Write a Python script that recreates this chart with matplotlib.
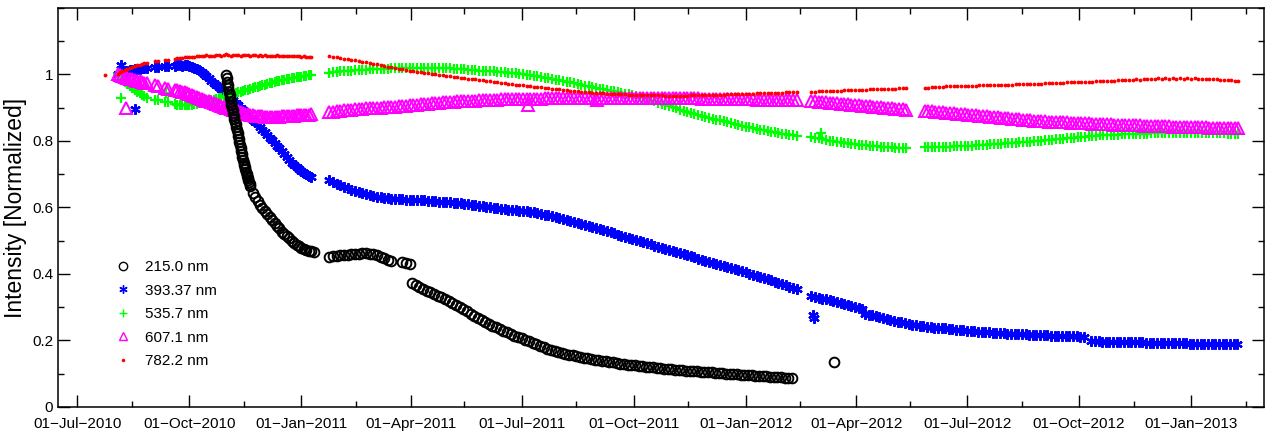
import numpy as np
import matplotlib
matplotlib.use("Agg")
import matplotlib.pyplot as plt
import matplotlib.dates as mdates
from matplotlib.ticker import MultipleLocator, FuncFormatter

plt.rcParams['font.family'] = ['Liberation Sans', 'DejaVu Sans']

# normalized intensity, one list per wavelength
# each entry: (first date, spacing in days, values)
nm215 = [
    ("2010-10-31", 0.5, [0.998, 0.988, 0.978, 0.968, 0.958, 0.948, 0.938, 0.928, 0.918, 0.909,
                         0.900, 0.892, 0.884, 0.875, 0.867, 0.858, 0.850, 0.841, 0.832, 0.823,
                         0.815, 0.806, 0.797, 0.788, 0.780, 0.770, 0.760, 0.751, 0.742, 0.735,
                         0.728, 0.721, 0.715, 0.708, 0.702, 0.696, 0.690, 0.684, 0.678, 0.671]),
    ("2010-11-20", 2, [0.665, 0.645, 0.632, 0.620, 0.608, 0.598, 0.588, 0.579, 0.570, 0.561,
                       0.553, 0.545, 0.537, 0.527, 0.520, 0.513, 0.507, 0.500, 0.494, 0.488,
                       0.483, 0.479, 0.476, 0.473, 0.470, 0.468, 0.466]),
    ("2011-01-24", 3, [0.452, 0.453, 0.455, 0.456, 0.457, 0.458, 0.459, 0.460, 0.461, 0.462,
                       0.462, 0.461, 0.459, 0.456, 0.452, 0.447, 0.442, 0.440]),
    ("2011-03-25", 3, [0.435, 0.432, 0.430]),
    ("2011-04-02", 3, [0.372, 0.366, 0.360, 0.355, 0.350, 0.345, 0.340, 0.335, 0.330, 0.324,
                       0.318, 0.313, 0.307, 0.301, 0.295, 0.288, 0.281, 0.274, 0.268, 0.262,
                       0.256, 0.250, 0.245, 0.240, 0.234, 0.229, 0.225, 0.220, 0.215, 0.210,
                       0.206, 0.201, 0.197, 0.192, 0.188, 0.183, 0.179, 0.175, 0.172, 0.169,
                       0.166, 0.163, 0.160, 0.157, 0.155, 0.152, 0.150, 0.148, 0.146, 0.144,
                       0.142, 0.141, 0.139, 0.137, 0.135, 0.134, 0.132, 0.130, 0.129, 0.127,
                       0.126, 0.125, 0.124, 0.122, 0.121, 0.120, 0.119, 0.117, 0.116, 0.115,
                       0.114, 0.113, 0.112, 0.111, 0.110, 0.109, 0.108, 0.108, 0.107, 0.106,
                       0.105, 0.105, 0.104, 0.103, 0.102, 0.101, 0.100, 0.100, 0.099, 0.098,
                       0.097, 0.097, 0.096, 0.095, 0.094, 0.094, 0.093, 0.092, 0.091, 0.091,
                       0.090, 0.089, 0.088, 0.088, 0.087]),
    ("2012-03-14", 1, [0.136]),
]

nm393 = [
    ("2010-08-03", 2, [1.000, 1.004, 1.008, 1.010, 1.012, 1.013, 1.015, 1.016, 1.017, 1.018,
                       1.019, 1.020, 1.021]),
    ("2010-08-06", 11, [1.029, 0.896]),
    ("2010-09-03", 2, [1.022, 1.023]),
    ("2010-09-11", 2, [1.026, 1.025]),
    ("2010-09-19", 2, [1.027, 1.029, 1.028, 1.026, 1.028, 1.029, 1.026, 1.024, 1.021, 1.017,
                       1.013, 1.008, 1.002, 0.995, 0.988, 0.981, 0.974, 0.968, 0.962, 0.956,
                       0.950, 0.944, 0.937, 0.930, 0.922, 0.915, 0.907, 0.900, 0.892, 0.885,
                       0.877, 0.870, 0.863, 0.857, 0.850, 0.842, 0.834, 0.826, 0.818, 0.810,
                       0.802, 0.794, 0.786, 0.778, 0.769, 0.761, 0.752, 0.744, 0.735, 0.728,
                       0.721, 0.715, 0.710, 0.705, 0.700, 0.696, 0.692]),
    ("2011-01-24", 3, [0.683, 0.677, 0.672, 0.667, 0.662, 0.658, 0.654, 0.650, 0.647, 0.643,
                       0.640, 0.637, 0.635, 0.633, 0.631, 0.629, 0.628, 0.627, 0.626, 0.626,
                       0.625, 0.624, 0.624, 0.623, 0.623, 0.622, 0.622, 0.621, 0.620, 0.619,
                       0.618, 0.617, 0.617, 0.616, 0.615, 0.614, 0.612, 0.611, 0.609, 0.608,
                       0.606, 0.604, 0.603, 0.601, 0.600, 0.599, 0.598, 0.596, 0.595, 0.593,
                       0.592, 0.591, 0.590, 0.589, 0.588, 0.586, 0.585, 0.583, 0.581, 0.578,
                       0.576, 0.573, 0.570, 0.567, 0.564, 0.561, 0.558, 0.555, 0.552, 0.549,
                       0.546, 0.543, 0.540, 0.537, 0.534, 0.531, 0.528, 0.525, 0.522, 0.518,
                       0.515, 0.512, 0.509, 0.505, 0.502, 0.499, 0.496, 0.492, 0.489, 0.485,
                       0.482, 0.479, 0.476, 0.472, 0.469, 0.466, 0.463, 0.459, 0.456, 0.453,
                       0.450, 0.446, 0.443, 0.440, 0.437, 0.434, 0.431, 0.427, 0.424, 0.421,
                       0.418, 0.414, 0.411, 0.408, 0.405, 0.401, 0.398, 0.394, 0.391, 0.388,
                       0.385, 0.381, 0.377, 0.374, 0.370, 0.366, 0.362, 0.359, 0.355]),
    ("2012-02-24", 3, [0.333, 0.330, 0.328, 0.326, 0.324, 0.321, 0.319, 0.316, 0.314, 0.311,
                       0.308, 0.305, 0.302, 0.299, 0.296]),
    ("2012-02-25", 1, [0.278, 0.268]),
    ("2012-04-08", 3, [0.279, 0.278, 0.276, 0.274, 0.272, 0.269, 0.266, 0.263, 0.260, 0.257,
                       0.255, 0.252, 0.250, 0.248, 0.246, 0.244, 0.243, 0.241, 0.240, 0.239,
                       0.238, 0.238, 0.237, 0.235, 0.234, 0.233, 0.232, 0.231, 0.230, 0.229,
                       0.228, 0.227, 0.226, 0.226, 0.225, 0.224, 0.223, 0.223, 0.222, 0.221,
                       0.221, 0.220, 0.220, 0.219, 0.219, 0.218, 0.218, 0.217, 0.217, 0.216,
                       0.216, 0.215, 0.215, 0.214, 0.214, 0.213, 0.213, 0.212, 0.212, 0.211,
                       0.211]),
    ("2012-10-11", 3, [0.197, 0.197, 0.197, 0.196, 0.196, 0.196, 0.196, 0.195, 0.195, 0.195,
                       0.195, 0.194, 0.194, 0.194, 0.194, 0.193, 0.193, 0.193, 0.193, 0.192,
                       0.192, 0.192, 0.192, 0.191, 0.191, 0.191, 0.191, 0.190, 0.190, 0.190,
                       0.190, 0.190, 0.190, 0.189, 0.189, 0.189, 0.189, 0.189, 0.189, 0.188,
                       0.188]),
]

nm535 = [
    ("2010-08-03", 2, [1.000, 0.992, 0.985, 0.978, 0.971, 0.965, 0.959, 0.953, 0.948, 0.943,
                       0.938, 0.934, 0.930]),
    ("2010-08-06", 1, [0.928]),
    ("2010-09-03", 2, [0.923, 0.922]),
    ("2010-09-11", 2, [0.918, 0.917]),
    ("2010-09-12", 1, [0.943]),
    ("2010-09-19", 2, [0.910, 0.909, 0.908, 0.907, 0.907, 0.907, 0.908, 0.909, 0.910, 0.911,
                       0.913, 0.914, 0.916, 0.918, 0.920, 0.922, 0.924, 0.926, 0.928, 0.930,
                       0.933, 0.935, 0.937, 0.939, 0.942, 0.944, 0.946, 0.948, 0.950, 0.952,
                       0.954, 0.956, 0.959, 0.961, 0.963, 0.965, 0.967, 0.969, 0.971, 0.973,
                       0.975, 0.977, 0.979, 0.980, 0.982, 0.984, 0.985, 0.987, 0.988, 0.990,
                       0.991, 0.992, 0.993, 0.995, 0.996, 0.997, 0.998]),
    ("2011-01-24", 3, [1.004, 1.006, 1.007, 1.009, 1.010, 1.011, 1.012, 1.013, 1.014, 1.015,
                       1.015, 1.016, 1.016, 1.017, 1.017, 1.018, 1.018, 1.019, 1.019, 1.020,
                       1.020, 1.020, 1.020, 1.021, 1.020, 1.020, 1.020, 1.021, 1.020, 1.020,
                       1.020, 1.020, 1.019, 1.019, 1.018, 1.018, 1.017, 1.016, 1.015, 1.014,
                       1.013, 1.012, 1.011, 1.010, 1.009, 1.009, 1.008, 1.007, 1.006, 1.005,
                       1.004, 1.003, 1.001, 1.000, 0.998, 0.997, 0.995, 0.994, 0.992, 0.990,
                       0.988, 0.986, 0.984, 0.982, 0.980, 0.978, 0.976, 0.974, 0.971, 0.969,
                       0.966, 0.964, 0.962, 0.960, 0.957, 0.955, 0.953, 0.951, 0.949, 0.947,
                       0.944, 0.942, 0.940, 0.938, 0.935, 0.932, 0.929, 0.926, 0.922, 0.919,
                       0.915, 0.912, 0.908, 0.905, 0.901, 0.898, 0.894, 0.891, 0.887, 0.884,
                       0.881, 0.879, 0.876, 0.873, 0.870, 0.867, 0.864, 0.862, 0.859, 0.856,
                       0.853, 0.851, 0.848, 0.846, 0.843, 0.841, 0.838, 0.836, 0.834, 0.832,
                       0.830, 0.828, 0.826, 0.824, 0.822, 0.821, 0.819, 0.818, 0.816]),
    ("2012-02-24", 3, [0.813, 0.810, 0.808, 0.805, 0.803, 0.801, 0.799, 0.797, 0.796, 0.794,
                       0.793, 0.791, 0.790, 0.789, 0.788, 0.787, 0.786, 0.785, 0.784, 0.783,
                       0.782, 0.782, 0.781, 0.780, 0.780, 0.779, 0.779]),
    ("2012-03-03", 1, [0.825]),
    ("2012-05-27", 3, [0.782, 0.782, 0.782, 0.782, 0.783, 0.783, 0.783, 0.783, 0.784, 0.784,
                       0.785, 0.785, 0.786, 0.786, 0.787, 0.788, 0.789, 0.789, 0.790, 0.791,
                       0.792, 0.792, 0.793, 0.794, 0.795, 0.795, 0.796, 0.797, 0.798, 0.798,
                       0.799, 0.800, 0.801, 0.802, 0.803, 0.804, 0.805, 0.806, 0.807, 0.808,
                       0.809, 0.810, 0.811, 0.812, 0.813, 0.814, 0.815, 0.816, 0.817, 0.817,
                       0.818, 0.818, 0.819, 0.819, 0.820, 0.820, 0.821, 0.821, 0.822, 0.822,
                       0.822, 0.822, 0.823, 0.823, 0.823, 0.823, 0.823, 0.823, 0.824, 0.824,
                       0.824, 0.824, 0.824, 0.824, 0.824, 0.824, 0.824, 0.823, 0.823, 0.823,
                       0.823, 0.823, 0.823, 0.822, 0.822, 0.822, 0.822]),
]

nm607 = [
    ("2010-08-03", 2, [1.000, 0.997, 0.994, 0.992, 0.989, 0.987, 0.985, 0.983, 0.981, 0.979,
                       0.977, 0.975, 0.973]),
    ("2010-08-10", 1, [0.898]),
    ("2010-09-03", 2, [0.968, 0.966]),
    ("2010-09-11", 2, [0.959, 0.957]),
    ("2010-09-19", 2, [0.954, 0.952, 0.950, 0.948, 0.946, 0.944, 0.942, 0.939, 0.936, 0.933,
                       0.930, 0.927, 0.924, 0.921, 0.919, 0.916, 0.913, 0.910, 0.908, 0.905,
                       0.903, 0.900, 0.898, 0.895, 0.893, 0.891, 0.889, 0.886, 0.884, 0.882,
                       0.880, 0.878, 0.877, 0.876, 0.875, 0.874, 0.874, 0.873, 0.873, 0.873,
                       0.873, 0.873, 0.873, 0.873, 0.874, 0.874, 0.875, 0.875, 0.876, 0.876,
                       0.877, 0.877, 0.878, 0.878, 0.879, 0.879, 0.880]),
    ("2011-01-24", 3, [0.886, 0.888, 0.889, 0.891, 0.892, 0.893, 0.894, 0.895, 0.896, 0.897,
                       0.898, 0.899, 0.899, 0.900, 0.900, 0.901, 0.902, 0.903, 0.903, 0.904,
                       0.905, 0.906, 0.907, 0.908, 0.909, 0.910, 0.911, 0.912, 0.913, 0.914,
                       0.915, 0.916, 0.917, 0.918, 0.918, 0.919, 0.919, 0.920, 0.920, 0.921,
                       0.921, 0.922, 0.922, 0.923, 0.923, 0.924, 0.924, 0.925, 0.925, 0.925,
                       0.925, 0.926, 0.926, 0.926, 0.926, 0.927, 0.927, 0.927, 0.927, 0.928,
                       0.928, 0.928, 0.928, 0.929, 0.929, 0.929, 0.929, 0.929, 0.929, 0.930,
                       0.930, 0.930, 0.930, 0.930, 0.930, 0.930, 0.930, 0.929, 0.929, 0.929,
                       0.929, 0.928, 0.928, 0.928, 0.928, 0.928, 0.928, 0.928, 0.928, 0.928,
                       0.928, 0.928, 0.928, 0.928, 0.928, 0.928, 0.928, 0.928, 0.928, 0.928,
                       0.928, 0.928, 0.927, 0.927, 0.927, 0.927, 0.927, 0.927, 0.926, 0.926,
                       0.926, 0.926, 0.926, 0.925, 0.925, 0.925, 0.925, 0.924, 0.924, 0.924,
                       0.924, 0.923, 0.923, 0.923, 0.923, 0.923, 0.923, 0.922, 0.922]),
    ("2011-07-06", 57, [0.908, 0.922]),
    ("2012-02-24", 3, [0.920, 0.919, 0.918, 0.917, 0.916, 0.915, 0.914, 0.913, 0.912, 0.911,
                       0.910, 0.909, 0.908, 0.907, 0.906, 0.905, 0.904, 0.903, 0.902, 0.901,
                       0.900, 0.899, 0.898, 0.897, 0.896, 0.895, 0.894]),
    ("2012-05-27", 3, [0.891, 0.890, 0.889, 0.888, 0.887, 0.886, 0.885, 0.884, 0.883, 0.882,
                       0.881, 0.880, 0.879, 0.878, 0.877, 0.876, 0.875, 0.874, 0.873, 0.872,
                       0.871, 0.870, 0.869, 0.868, 0.867, 0.866, 0.865, 0.864, 0.863, 0.862,
                       0.861, 0.861, 0.860, 0.859, 0.858, 0.858, 0.857, 0.857, 0.856, 0.856,
                       0.855, 0.855, 0.854, 0.854, 0.853, 0.853, 0.852, 0.852, 0.851, 0.851,
                       0.850, 0.850, 0.849, 0.849, 0.848, 0.848, 0.847, 0.847, 0.847, 0.847,
                       0.846, 0.846, 0.845, 0.845, 0.845, 0.845, 0.844, 0.844, 0.843, 0.843,
                       0.843, 0.843, 0.842, 0.842, 0.842, 0.842, 0.841, 0.841, 0.840, 0.840,
                       0.840, 0.840, 0.839, 0.839, 0.839, 0.839, 0.838]),
]

nm782 = [
    ("2010-07-24", 1, [0.999]),
    ("2010-08-03", 2, [1.002, 1.006, 1.010, 1.013, 1.016, 1.019, 1.022, 1.025, 1.028, 1.030,
                       1.032, 1.034, 1.035]),
    ("2010-09-03", 2, [1.041, 1.042]),
    ("2010-09-11", 2, [1.044, 1.045]),
    ("2010-09-19", 2, [1.048, 1.049, 1.050, 1.051, 1.052, 1.052, 1.053, 1.054, 1.054, 1.056,
                       1.055, 1.055, 1.056, 1.058, 1.056, 1.057, 1.056, 1.059, 1.058, 1.057,
                       1.058, 1.061, 1.058, 1.057, 1.058, 1.060, 1.058, 1.057, 1.059, 1.058,
                       1.058, 1.057, 1.060, 1.058, 1.057, 1.058, 1.056, 1.059, 1.057, 1.056,
                       1.057, 1.056, 1.058, 1.056, 1.055, 1.057, 1.056, 1.055, 1.056, 1.055,
                       1.056, 1.055, 1.054, 1.055, 1.054, 1.054, 1.053]),
    ("2011-01-24", 3, [1.055, 1.053, 1.052, 1.050, 1.048, 1.047, 1.045, 1.043, 1.041, 1.039,
                       1.037, 1.035, 1.033, 1.031, 1.028, 1.026, 1.024, 1.022, 1.020, 1.018,
                       1.016, 1.014, 1.012, 1.010, 1.008, 1.007, 1.005, 1.003, 1.001, 1.000,
                       0.998, 0.997, 0.995, 0.994, 0.992, 0.991, 0.989, 0.988, 0.987, 0.986,
                       0.985, 0.984, 0.982, 0.981, 0.979, 0.978, 0.976, 0.975, 0.973, 0.972,
                       0.970, 0.969, 0.968, 0.967, 0.966, 0.965, 0.963, 0.962, 0.961, 0.960,
                       0.958, 0.957, 0.956, 0.955, 0.954, 0.953, 0.951, 0.950, 0.949, 0.948,
                       0.947, 0.946, 0.945, 0.945, 0.944, 0.943, 0.942, 0.942, 0.941, 0.941,
                       0.940, 0.940, 0.939, 0.939, 0.938, 0.938, 0.937, 0.937, 0.937, 0.937,
                       0.937, 0.937, 0.936, 0.936, 0.936, 0.936, 0.936, 0.936, 0.936, 0.937,
                       0.937, 0.937, 0.937, 0.938, 0.938, 0.938, 0.938, 0.939, 0.939, 0.940,
                       0.940, 0.941, 0.941, 0.941, 0.941, 0.942, 0.942, 0.943, 0.943, 0.943,
                       0.943, 0.944, 0.944, 0.945, 0.945, 0.946, 0.946, 0.947, 0.947]),
    ("2012-02-24", 3, [0.948, 0.948, 0.949, 0.949, 0.950, 0.950, 0.950, 0.951, 0.951, 0.952,
                       0.952, 0.952, 0.953, 0.953, 0.954, 0.954, 0.955, 0.955, 0.955, 0.956,
                       0.956, 0.956, 0.957, 0.957, 0.958, 0.958, 0.958]),
    ("2012-05-27", 3, [0.960, 0.960, 0.961, 0.961, 0.962, 0.963, 0.964, 0.964, 0.965, 0.965,
                       0.965, 0.966, 0.966, 0.966, 0.966, 0.967, 0.967, 0.967, 0.967, 0.968,
                       0.968, 0.968, 0.968, 0.969, 0.969, 0.970, 0.970, 0.971, 0.971, 0.972,
                       0.972, 0.972, 0.972, 0.973, 0.973, 0.974, 0.974, 0.975, 0.975, 0.976,
                       0.976, 0.977, 0.977, 0.977, 0.977, 0.978, 0.978, 0.979, 0.979, 0.980,
                       0.980, 0.981, 0.981, 0.982, 0.982, 0.983, 0.983, 0.984, 0.985, 0.984,
                       0.986, 0.985, 0.987, 0.986, 0.988, 0.986, 0.989, 0.987, 0.988, 0.986,
                       0.989, 0.987, 0.988, 0.986, 0.988, 0.987, 0.986, 0.987, 0.985, 0.986,
                       0.985, 0.984, 0.983, 0.983, 0.982, 0.981, 0.981]),
]

labels = ['215.0 nm', '393.37 nm', '535.7 nm', '607.1 nm', '782.2 nm']


def expand(segments):
    # turn (start, step, values) blocks into flat date / value arrays
    dates, vals = [], []
    for start, step, v in segments:
        t0 = np.datetime64(start, 'h')
        dt = np.timedelta64(int(round(step * 24)), 'h')
        dates.append(t0 + np.arange(len(v)) * dt)
        vals.append(np.array(v))
    return np.concatenate(dates), np.concatenate(vals)


fig = plt.figure(figsize=(12.69, 4.32), dpi=100)
ax = fig.add_axes([0.0457, 0.0579, 0.9504, 0.9236])

styles = [
    dict(marker='o', ms=7, mfc='none', mec='k', mew=1.4),
    dict(marker=(6, 2, 0), ms=7.5, color=(0, 0, 1), mew=1.6),
    dict(marker='+', ms=7.5, color=(0, 1, 0), mew=1.6),
    dict(marker='^', ms=8, mfc='none', mec=(1, 0, 1), mew=1.4),
    dict(marker='.', ms=3.5, color=(1, 0, 0)),
]
zorders = [6, 2, 3, 4, 5]

handles = []
for seg, lab, st, z in zip([nm215, nm393, nm535, nm607, nm782], labels, styles, zorders):
    t, v = expand(seg)
    h, = ax.plot(t, v, linestyle='none', label=lab, zorder=z, **st)
    handles.append(h)

ax.set_xlim(np.datetime64('2010-06-15'), np.datetime64('2013-03-02'))
ax.set_ylim(0, 1.2)

ax.xaxis.set_major_locator(mdates.MonthLocator(bymonth=[1, 4, 7, 10], bymonthday=1))
ax.xaxis.set_minor_locator(mdates.MonthLocator(bymonth=[2, 5, 8, 11], bymonthday=15))
ax.xaxis.set_major_formatter(mdates.DateFormatter('%d\u2212%b\u2212%Y'))
ax.set_yticks([0, 0.2, 0.4, 0.6, 0.8, 1.0])
ax.yaxis.set_minor_locator(MultipleLocator(0.1))
ax.yaxis.set_major_formatter(FuncFormatter(lambda y, p: '%g' % round(y, 2)))

ax.tick_params(which='both', direction='in', top=True, right=True, labelsize=11, width=1)
ax.tick_params(which='major', length=8.5)
ax.tick_params(which='minor', length=4)
ax.tick_params(axis='x', pad=7)
for s in ax.spines.values():
    s.set_linewidth(1.1)

ax.set_ylabel('Intensity [Normalized]', fontsize=16.5)
ax.yaxis.set_label_coords(-0.0257, 0.5)

# legend markers are drawn thinner than the data points
leg = ax.legend(handles=handles, loc='upper left', bbox_to_anchor=(0.0416, 0.383),
                frameon=False, fontsize=11, handlelength=1.2, handletextpad=0.8,
                labelspacing=0.62, borderaxespad=0)
for lh, ms in zip(leg.legend_handles, [6, 6, 6, 6, 3]):
    lh.set_markersize(ms)
    lh.set_markeredgewidth(1.0)

fig.savefig('out.png', dpi=100)
